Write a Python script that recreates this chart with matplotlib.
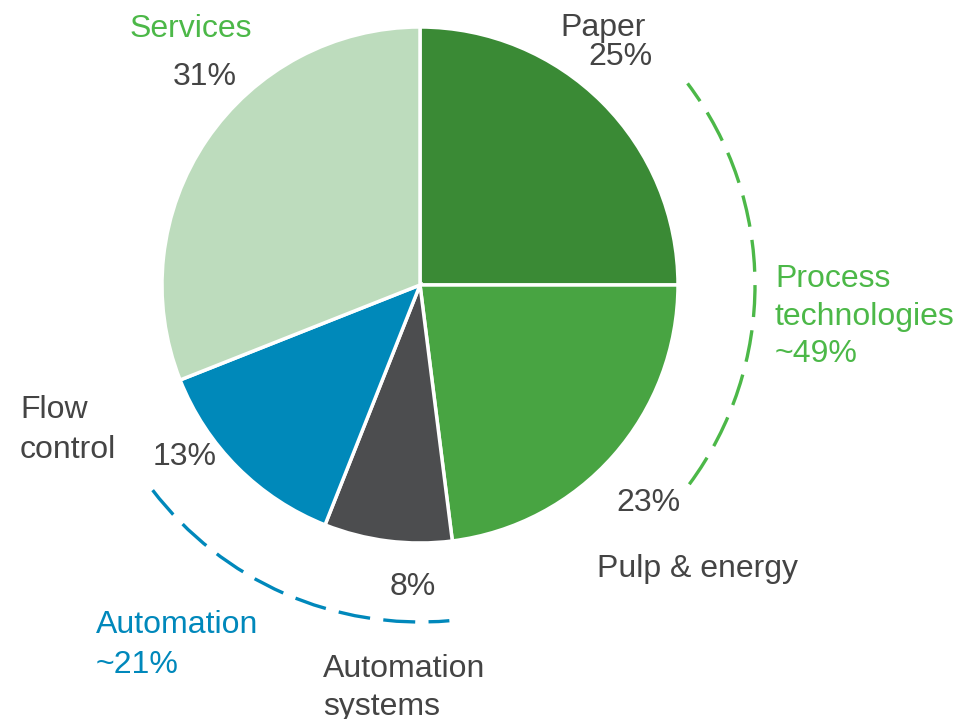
import matplotlib
matplotlib.use('Agg')
import matplotlib.pyplot as plt
from matplotlib.patches import Arc

# data
segments = ['Paper', 'Pulp & energy', 'Automation\nsystems', 'Flow\ncontrol', 'Services']
shares = [25, 23, 8, 13, 31]
pct_labels = ['25%', '23%', '8%', '13%', '31%']
colors = ['#3a8a35', '#48a442', '#4c4d4f', '#0089ba', '#bddcbd']
groups = ['Process\ntechnologies\n~49%', 'Automation\n~21%']

W, H = 958, 719
GREY = '#444444'
GREEN = '#4cb848'
BLUE = '#0088bb'
FS = 23

plt.rcParams['font.family'] = ['Liberation Sans', 'DejaVu Sans']

fig = plt.figure(figsize=(W / 100, H / 100), dpi=100)
ax = fig.add_axes([0, 0, 1, 1])

def iy(y):
    # image row -> axes y
    return H - y

cx, cy, r = 420, iy(285), 258
ax.pie(shares, colors=colors, startangle=90, counterclock=False,
       center=(cx, cy), radius=r, frame=True,
       wedgeprops=dict(edgecolor='white', linewidth=2.5))
ax.set_xlim(0, W)
ax.set_ylim(0, H)
ax.set_aspect('equal')
ax.axis('off')

# dashed group arcs
dash = (0, (9.6, 4.0))
ax.add_patch(Arc((cx, cy), 2 * 335, 2 * 335, theta1=-36.5, theta2=37,
                 color=GREEN, lw=2.4, ls=dash))
ax.add_patch(Arc((cx, cy), 2 * 337, 2 * 337, theta1=217.5, theta2=275,
                 color=BLUE, lw=2.4, ls=dash))

def lines(x, y0, text, color, ha='left', step=38):
    for i, t in enumerate(text.split('\n')):
        ax.text(x, iy(y0 + i * step), t, color=color, fontsize=FS,
                ha=ha, va='baseline')

# segment names
lines(603, 36, segments[0], GREY, ha='center')
lines(597, 577, segments[1], GREY)
lines(323, 677, segments[2], GREY)
lines(20, 418, segments[3], GREY, step=40)
lines(191, 37, segments[4], GREEN, ha='center')

# percentages
pct_pos = [(620, 65), (648, 511), (413, 595), (185, 465), (205, 85)]
for (x, y), p in zip(pct_pos, pct_labels):
    ax.text(x, iy(y), p, color=GREY, fontsize=FS, ha='center', va='baseline')

# group labels
lines(775, 287, groups[0], GREEN, step=37.5)
lines(96, 633, groups[1], BLUE, step=40)

fig.savefig('out.png', dpi=100)
